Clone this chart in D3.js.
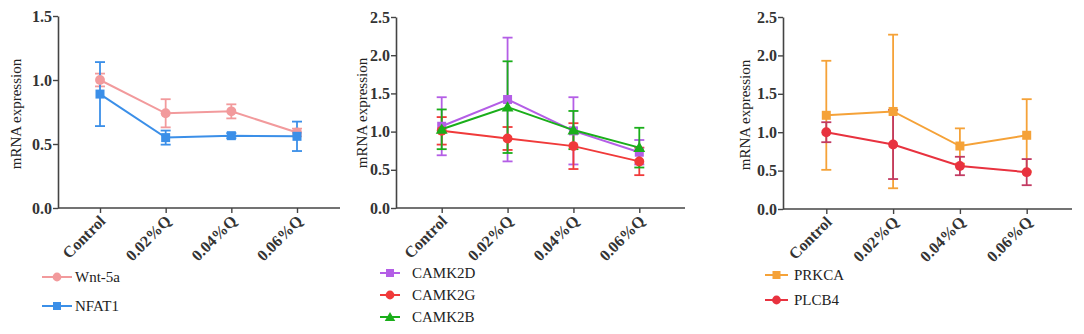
<!DOCTYPE html>
<html><head><meta charset="utf-8">
<script src="https://cdn.jsdelivr.net/npm/d3@7"></script>
<style>body{margin:0;background:#fff}svg{display:block}</style>
</head><body>
<svg id="c" width="1084" height="334"></svg>
<script>
const categories = ["Control","0.02%Q","0.04%Q","0.06%Q"];

// Panel A
const wnt5a = [1.00, 0.74, 0.755, 0.59];
const wnt5aErr = [0.05, 0.11, 0.055, 0.03];
const nfat1 = [0.89, 0.55, 0.565, 0.56];
const nfat1Err = [0.25, 0.055, 0.02, 0.115];
// Panel B
const camk2d = [1.07, 1.42, 1.01, 0.73];
const camk2dErr = [0.38, 0.81, 0.44, 0.16];
const camk2g = [1.01, 0.91, 0.81, 0.61];
const camk2gErr = [0.18, 0.15, 0.30, 0.18];
const camk2b = [1.03, 1.32, 1.02, 0.79];
const camk2bErr = [0.26, 0.60, 0.25, 0.26];
// Panel C
const prkca = [1.22, 1.27, 0.82, 0.96];
const prkcaErr = [0.71, 1.00, 0.23, 0.47];
const plcb4 = [1.00, 0.84, 0.56, 0.48];
const plcb4Err = [0.13, 0.45, 0.12, 0.17];

const yTicksA = [0, 0.5, 1.0, 1.5];
const yTicksBC = [0, 0.5, 1.0, 1.5, 2.0, 2.5];

// pick an installed serif font
const fontCandidates = ["Liberation Serif","Tinos","DejaVu Serif","Noto Serif","Times New Roman","Times","FreeSerif","Nimbus Roman","Nimbus Roman No9 L","Bitstream Vera Serif","Georgia"];
function detectFont() {
  const ctx = document.createElement("canvas").getContext("2d");
  const s = "mRNA expression 0.02%Q CAMK2D Wnt";
  const w = f => { ctx.font = f; return ctx.measureText(s).width; };
  const bm = w("16px monospace"), bs = w("16px sans-serif");
  for (const f of fontCandidates) {
    if (w(`16px "${f}", monospace`) !== bm || w(`16px "${f}", sans-serif`) !== bs) return `"${f}", serif`;
  }
  return "serif";
}
const font = detectFont();

const panels = [
  {x0:58, x1:340, px0:100, px1:297, yTop:16, yBot:208, ymax:1.5, ticks:yTicksA, labX:21, labY:114,
   legX:42, legW:30, legTX:75, legY:[277,306],
   series:[
     {name:"Wnt-5a", v:wnt5a, e:wnt5aErr, color:"#f29a9c", ecolor:"#f29a9c", shape:"circle"},
     {name:"NFAT1", v:nfat1, e:nfat1Err, color:"#3b8fe8", ecolor:"#3b8fe8", shape:"square"}
   ]},
  {x0:396, x1:685, px0:441.7, px1:639.3, yTop:17, yBot:208, ymax:2.5, ticks:yTicksBC, labX:367, labY:113,
   legX:380, legW:20, legTX:412, legY:[273,295,317],
   series:[
     {name:"CAMK2D", v:camk2d, e:camk2dErr, color:"#b45ee6", ecolor:"#b45ee6", shape:"square"},
     {name:"CAMK2G", v:camk2g, e:camk2gErr, color:"#f03a3a", ecolor:"#f03a3a", shape:"circle"},
     {name:"CAMK2B", v:camk2b, e:camk2bErr, color:"#1aae1a", ecolor:"#1aae1a", shape:"triangle"}
   ]},
  {x0:783, x1:1072, px0:826.3, px1:1026.7, yTop:17, yBot:209, ymax:2.5, ticks:yTicksBC, labX:750, labY:115,
   legX:765, legW:23, legTX:794, legY:[275,300],
   series:[
     {name:"PRKCA", v:prkca, e:prkcaErr, color:"#f5a238", ecolor:"#f5a238", shape:"square"},
     {name:"PLCB4", v:plcb4, e:plcb4Err, color:"#e8323f", ecolor:"#c23a62", shape:"circle"}
   ]}
];

const svg = d3.select("#c");
const axisColor = "#444";

function marker(g, shape, cx, cy, color, s) {
  if (shape === "circle") {
    g.append("circle").attr("cx",cx).attr("cy",cy).attr("r",s*0.55).attr("fill",color);
  } else if (shape === "square") {
    g.append("rect").attr("x",cx-s/2).attr("y",cy-s/2).attr("width",s).attr("height",s).attr("fill",color);
  } else {
    const sym = d3.symbol().type(d3.symbolTriangle).size(s*s*0.75);
    g.append("path").attr("d",sym()).attr("transform",`translate(${cx},${cy+1})`).attr("fill",color);
  }
}

panels.forEach(p => {
  const g = svg.append("g");
  const x = d3.scalePoint().domain(categories).range([p.px0, p.px1]);
  const y = d3.scaleLinear().domain([0, p.ymax]).range([p.yBot, p.yTop]);

  // y axis
  const ya = g.append("g").attr("transform",`translate(${p.x0},0)`)
    .call(d3.axisLeft(y).tickValues(p.ticks).tickFormat(d3.format(".1f")).tickSize(5).tickSizeOuter(0));
  ya.attr("font-family",null);
  ya.select(".domain").attr("stroke",axisColor).attr("stroke-width",1.6);
  ya.selectAll(".tick line").attr("stroke",axisColor).attr("stroke-width",1.4);
  ya.selectAll(".tick text").style("font-family",font).attr("font-size",16).attr("font-weight","bold")
    .attr("fill","#333").attr("x",-6);

  // x axis
  const xa = g.append("g").attr("transform",`translate(0,${p.yBot})`)
    .call(d3.axisBottom(x).tickSize(5).tickSizeOuter(0));
  xa.attr("font-family",null);
  xa.select(".domain").remove();
  xa.append("line").attr("x1",p.x0).attr("x2",p.x1).attr("y1",0).attr("y2",0)
    .attr("stroke",axisColor).attr("stroke-width",1.6);
  xa.selectAll(".tick line").attr("stroke",axisColor).attr("stroke-width",1.4);
  xa.selectAll(".tick text").style("font-family",font).attr("font-size",16).attr("font-weight","bold")
    .attr("fill","#333").attr("text-anchor","end").attr("dy",null).attr("y",null)
    .attr("transform","translate(6,14) rotate(-45)");

  // y label
  g.append("text").attr("transform",`translate(${p.labX},${p.labY}) rotate(-90)`)
    .attr("text-anchor","middle").style("font-family",font).attr("font-size",15).attr("fill","#222")
    .text("mRNA expression");

  // error bars
  p.series.forEach(s => {
    const eg = g.append("g").attr("stroke",s.ecolor).attr("stroke-width",1.8);
    categories.forEach((c,i) => {
      const cx = x(c), hi = y(s.v[i]+s.e[i]), lo = y(s.v[i]-s.e[i]);
      eg.append("line").attr("x1",cx).attr("x2",cx).attr("y1",hi).attr("y2",lo);
      eg.append("line").attr("x1",cx-5).attr("x2",cx+5).attr("y1",hi).attr("y2",hi);
      eg.append("line").attr("x1",cx-5).attr("x2",cx+5).attr("y1",lo).attr("y2",lo);
    });
  });
  // lines + markers
  p.series.forEach(s => {
    const line = d3.line().x((d,i)=>x(categories[i])).y(d=>y(d));
    g.append("path").attr("d",line(s.v)).attr("fill","none").attr("stroke",s.color).attr("stroke-width",2);
    const mg = g.append("g");
    s.v.forEach((v,i)=>marker(mg, s.shape, x(categories[i]), y(v), s.color, 9));
  });

  // legend
  p.series.forEach((s,k) => {
    const ly = p.legY[k];
    g.append("line").attr("x1",p.legX).attr("x2",p.legX+p.legW).attr("y1",ly).attr("y2",ly)
      .attr("stroke",s.color).attr("stroke-width",2);
    marker(g, s.shape, p.legX+p.legW/2, ly, s.color, 8);
    g.append("text").attr("x",p.legTX).attr("y",ly).attr("dy","0.35em")
      .style("font-family",font).attr("font-size",15).attr("fill","#222").text(s.name);
  });
});
</script>
</body></html>
